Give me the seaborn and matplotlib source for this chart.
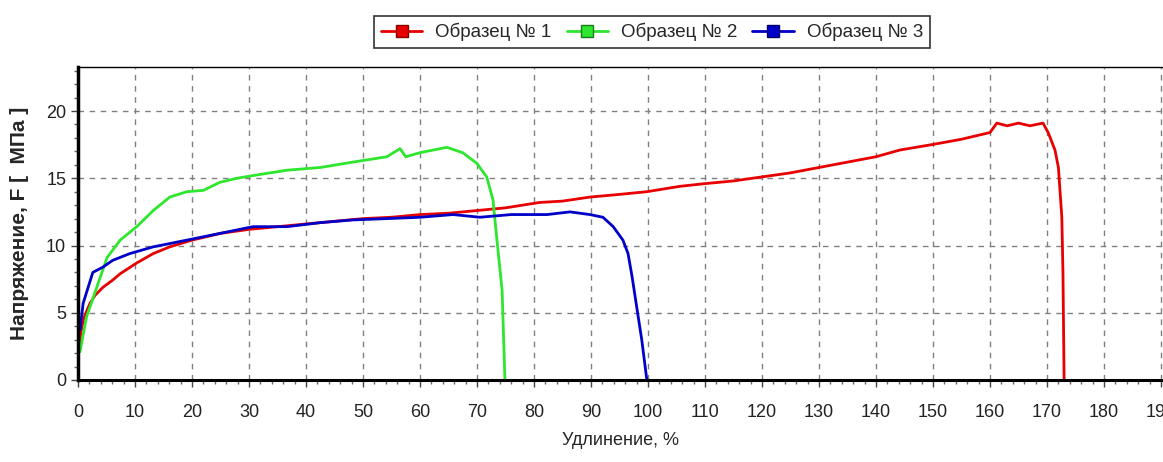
import pandas as pd
import matplotlib
matplotlib.use('Agg')
import matplotlib.pyplot as plt
from matplotlib.lines import Line2D
from matplotlib.ticker import MultipleLocator
import seaborn as sns

# Образец № 1 (red)
x1 = [0, 0.5, 1, 2.1, 3, 4.4, 6, 7.4, 10.3, 13.2, 16.1, 20, 25, 30, 35, 40, 45, 50, 55, 60,
      65, 70, 75, 81, 85, 89.8, 95, 99.8, 105.6, 110, 115, 120, 125, 130, 135, 140, 144.2,
      149.8, 155, 160, 161.2, 163, 165, 167, 169.3, 170.2, 171.4, 172.0, 172.6, 172.8, 173.0]
y1 = [1.8, 3.5, 4.6, 5.7, 6.3, 6.9, 7.4, 7.9, 8.7, 9.4, 9.9, 10.4, 10.9, 11.2, 11.4, 11.6,
      11.8, 12.0, 12.1, 12.3, 12.4, 12.6, 12.8, 13.2, 13.3, 13.6, 13.8, 14.0, 14.4, 14.6, 14.8,
      15.1, 15.4, 15.8, 16.2, 16.6, 17.1, 17.5, 17.9, 18.4, 19.1, 18.9, 19.1, 18.9, 19.1, 18.4,
      17.1, 15.8, 12.1, 8.0, 0.0]

# Образец № 2 (green)
x2 = [0.35, 1.5, 3.3, 5.1, 7.4, 10.3, 13.2, 16.1, 19.1, 22, 24.9, 27.9, 30.7, 36.7, 42.5,
      48.2, 54.2, 56.5, 57.5, 60, 64.7, 67.5, 70, 71.7, 72.8, 73.5, 74.4, 74.9]
y2 = [2.1, 4.7, 6.9, 9.1, 10.4, 11.4, 12.6, 13.6, 14.0, 14.1, 14.7, 15.0, 15.2, 15.6, 15.8,
      16.2, 16.6, 17.2, 16.6, 16.9, 17.3, 16.9, 16.1, 15.1, 13.4, 10.4, 6.7, 0.0]

# Образец № 3 (blue)
x3 = [0.35, 0.9, 2.6, 4.4, 6.1, 9.1, 13.2, 19.1, 24.9, 30.7, 36.7, 42.5, 48.2, 54.2, 60,
      65.8, 70.5, 76, 82.3, 86.3, 89.8, 92.1, 93.9, 95.6, 96.5, 97.2, 98.1, 98.9, 99.8]
y3 = [3.7, 5.7, 8.0, 8.4, 8.9, 9.4, 9.9, 10.4, 10.9, 11.4, 11.4, 11.7, 11.9, 12.0, 12.1,
      12.3, 12.1, 12.3, 12.3, 12.5, 12.3, 12.1, 11.4, 10.4, 9.4, 7.7, 5.2, 3.0, 0.0]

names = ['Образец № 1', 'Образец № 2', 'Образец № 3']
colors = ['#e80000', '#2ee62e', '#0000c8']
edges = ['#8a0000', '#1a7a1a', '#00006e']

df = pd.concat([
    pd.DataFrame({'x': x1, 'y': y1, 'name': names[0]}),
    pd.DataFrame({'x': x2, 'y': y2, 'name': names[1]}),
    pd.DataFrame({'x': x3, 'y': y3, 'name': names[2]}),
], ignore_index=True)

sns.set_style('white')
plt.rcParams['font.family'] = ['Liberation Sans', 'DejaVu Sans']

fig = plt.figure(figsize=(11.63, 4.62), dpi=100)
ax = fig.add_axes([78 / 1163, 82 / 462, 1 - 78 / 1163, 313 / 462])

sns.lineplot(data=df, x='x', y='y', hue='name', palette=dict(zip(names, colors)),
             estimator=None, sort=False, linewidth=2.0, legend=False, ax=ax)

ax.set_xlim(0, 1085 / 5.7)
ax.set_ylim(0, 313 / 13.45)
ax.xaxis.set_major_locator(MultipleLocator(10))
ax.xaxis.set_minor_locator(MultipleLocator(2))
ax.yaxis.set_major_locator(MultipleLocator(5))
ax.yaxis.set_minor_locator(MultipleLocator(1))
ax.tick_params(which='major', direction='out', length=5, width=1, color='#444444',
               labelsize=13, labelcolor='#222222', left=True, bottom=True)
ax.tick_params(axis='x', which='major', pad=12)
ax.tick_params(which='minor', direction='out', length=3, width=1, color='#666666',
               left=True, bottom=True)
ax.grid(True, which='major', color='#808080', linestyle=(0, (4, 4)), linewidth=1)

ax.spines['right'].set_visible(False)
ax.spines['left'].set_linewidth(2.5)
ax.spines['bottom'].set_linewidth(2.2)
ax.spines['top'].set_linewidth(1.0)
for s in ax.spines.values():
    s.set_color('black')

ax.set_xlabel('Удлинение, %', fontsize=13, labelpad=8)
ax.set_ylabel('Напряжение, F [  МПа ]', fontsize=15, fontweight='bold', labelpad=12)

handles = [Line2D([], [], color=c, lw=2, marker='s', markersize=9,
                  markerfacecolor=c, markeredgecolor=e)
           for c, e in zip(colors, edges)]
leg = fig.legend(handles, names, loc='center', bbox_to_anchor=(652 / 1163, 1 - 32 / 462),
                 ncol=3, fontsize=13.5, frameon=True, fancybox=False, handlelength=2.2,
                 handletextpad=0.7, columnspacing=0.8, borderpad=0.35)
leg.get_frame().set_edgecolor('black')
leg.get_frame().set_linewidth(1.2)

fig.savefig('out.png', dpi=100)
